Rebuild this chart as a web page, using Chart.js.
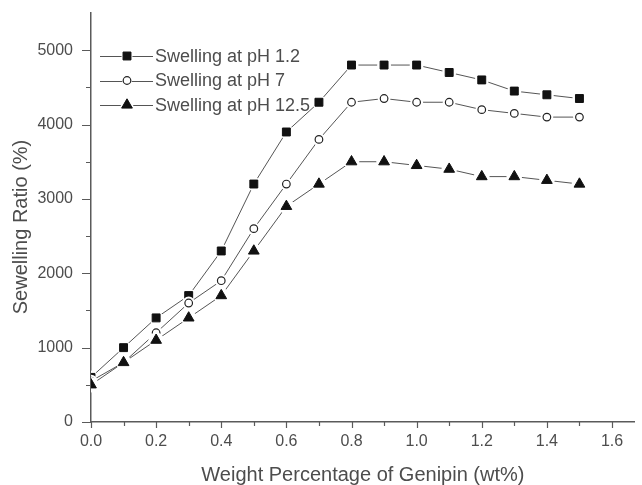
<!DOCTYPE html>
<html>
<head>
<meta charset="utf-8">
<script src="https://cdn.jsdelivr.net/npm/chart.js@4"></script>
<style>
  html, body { margin: 0; padding: 0; background: #fff; }
  #wrap { width: 642px; height: 485px; }
</style>
</head>
<body>
<div id="wrap"><canvas id="c" width="642" height="485"></canvas></div>
<script>
// Genipin content (wt%) and swelling ratio (%) at three pH values
const genipin = [0, 0.1, 0.2, 0.3, 0.4, 0.5, 0.6, 0.7, 0.8, 0.9, 1.0, 1.1, 1.2, 1.3, 1.4, 1.5];
const swellPh12 = [600, 1000, 1400, 1700, 2300, 3200, 3900, 4300, 4800, 4800, 4800, 4700, 4600, 4450, 4400, 4350];
const swellPh7 = [550, 800, 1200, 1600, 1900, 2600, 3200, 3800, 4300, 4350, 4300, 4300, 4200, 4150, 4100, 4100];
const swellPh125 = [500, 800, 1100, 1400, 1700, 2300, 2900, 3200, 3500, 3500, 3450, 3400, 3300, 3300, 3250, 3200];
const seriesLabels = ['Swelling at pH 1.2', 'Swelling at pH 7', 'Swelling at pH 12.5'];

// Axis ticks
const xTicks = [0, 0.2, 0.4, 0.6, 0.8, 1.0, 1.2, 1.4, 1.6];
const xMinorTicks = [0.1, 0.3, 0.5, 0.7, 0.9, 1.1, 1.3, 1.5];
const yTicks = [0, 1000, 2000, 3000, 4000, 5000];
const yMinorTicks = [500, 1500, 2500, 3500, 4500];

const FONT = "'Liberation Sans', Arial, Helvetica, sans-serif";
const TEXT = '#4d4d4d';
const AXIS = '#5a5a5a';
const LINE = '#555';

const toPoints = ys => genipin.map((x, i) => ({ x, y: ys[i] }));

// white ring behind each marker so the connecting lines stop short of it
const haloSize = [7, 6.4, 7.8];

const markerHalo = {
  id: 'markerHalo',
  afterDatasetDraw(chart, args) {
    const { ctx, chartArea: a } = chart;
    const meta = args.meta;
    const r = haloSize[args.index];
    ctx.save();
    ctx.beginPath();
    ctx.rect(a.left, a.top - 10, a.right - a.left + 10, a.bottom - a.top + 10);
    ctx.clip();
    meta.data.forEach(el => {
      ctx.fillStyle = '#fff';
      ctx.beginPath();
      ctx.arc(el.x, el.y, r, 0, Math.PI * 2);
      ctx.fill();
      el.draw(ctx, a);
    });
    ctx.restore();
  }
};

const axisDecor = {
  id: 'axisDecor',
  afterDraw(chart) {
    const { ctx, chartArea: a, scales } = chart;
    const xs = scales.x, ys = scales.y;
    ctx.save();
    ctx.strokeStyle = AXIS;
    ctx.lineWidth = 1.2;
    ctx.beginPath();
    xTicks.forEach(v => { const p = Math.round(xs.getPixelForValue(v)) + 0.5; ctx.moveTo(p, a.bottom); ctx.lineTo(p, a.bottom + 6); });
    xMinorTicks.forEach(v => { const p = Math.round(xs.getPixelForValue(v)) + 0.5; ctx.moveTo(p, a.bottom); ctx.lineTo(p, a.bottom + 4); });
    yTicks.forEach(v => { const p = Math.round(ys.getPixelForValue(v)) + 0.5; ctx.moveTo(a.left, p); ctx.lineTo(a.left - 9, p); });
    yMinorTicks.forEach(v => { const p = Math.round(ys.getPixelForValue(v)) + 0.5; ctx.moveTo(a.left, p); ctx.lineTo(a.left - 5, p); });
    ctx.stroke();

    // axis titles
    ctx.fillStyle = TEXT;
    ctx.font = '20px ' + FONT;
    ctx.textAlign = 'center';
    ctx.textBaseline = 'alphabetic';
    ctx.fillText('Weight Percentage of Genipin (wt%)', (a.left + a.right) / 2, 481);
    ctx.translate(27, 227);
    ctx.rotate(-Math.PI / 2);
    ctx.fillText('Sewelling Ratio (%)', 0, 0);
    ctx.restore();

    // legend: line + marker + label, inside the plot area
    ctx.save();
    const x0 = a.left + 9, x1 = a.left + 62, xm = a.left + 36, tx = a.left + 64;
    chart.data.datasets.forEach((ds, i) => {
      const y = a.top + 43 + i * 24.5;
      ctx.strokeStyle = ds.borderColor;
      ctx.lineWidth = ds.borderWidth;
      ctx.beginPath();
      ctx.moveTo(x0, Math.round(y) + 0.5);
      ctx.lineTo(x1, Math.round(y) + 0.5);
      ctx.stroke();
      ctx.fillStyle = '#fff';
      ctx.beginPath();
      ctx.arc(xm, y, haloSize[i] - 1.5, 0, Math.PI * 2);
      ctx.fill();
      ctx.fillStyle = ds.pointBackgroundColor;
      ctx.strokeStyle = ds.pointBorderColor;
      ctx.lineWidth = ds.pointBorderWidth;
      Chart.helpers.drawPoint(ctx, {
        pointStyle: ds.pointStyle, radius: ds.pointRadius,
        borderWidth: ds.pointBorderWidth, rotation: 0
      }, xm, y);
      ctx.fillStyle = TEXT;
      ctx.font = '18px ' + FONT;
      ctx.textAlign = 'left';
      ctx.textBaseline = 'middle';
      ctx.fillText(ds.label, tx, y + 1);
    });
    ctx.restore();
  }
};

new Chart(document.getElementById('c'), {
  type: 'line',
  data: {
    datasets: [
      {
        label: seriesLabels[0], data: toPoints(swellPh12), order: 2,
        borderColor: LINE, borderWidth: 1, tension: 0, fill: false,
        pointStyle: 'rect', pointRadius: 5.6, pointBackgroundColor: '#111',
        pointBorderColor: '#111', pointBorderWidth: 1
      },
      {
        label: seriesLabels[1], data: toPoints(swellPh7), order: 1,
        borderColor: LINE, borderWidth: 1, tension: 0, fill: false,
        pointStyle: 'circle', pointRadius: 3.8, pointBackgroundColor: '#fff',
        pointBorderColor: '#222', pointBorderWidth: 1.2
      },
      {
        label: seriesLabels[2], data: toPoints(swellPh125), order: 0,
        borderColor: LINE, borderWidth: 1, tension: 0, fill: false,
        pointStyle: 'triangle', pointRadius: 6.2, pointBackgroundColor: '#111',
        pointBorderColor: '#111', pointBorderWidth: 1
      }
    ]
  },
  options: {
    responsive: false,
    animation: false,
    devicePixelRatio: 1,
    layout: { padding: { top: 13, left: 0, right: 0, bottom: 0 } },
    plugins: { legend: { display: false }, tooltip: { enabled: false } },
    scales: {
      x: {
        type: 'linear', min: 0, max: 1.67,
        afterBuildTicks: s => { s.ticks = xTicks.map(v => ({ value: v })); },
        afterFit: s => { s.height = 63; s.paddingLeft = 0; s.paddingRight = 0; },
        ticks: {
          autoSkip: false, maxRotation: 0, padding: 10, color: TEXT,
          font: { family: FONT, size: 16 },
          callback: v => Number(v).toFixed(1)
        },
        grid: { display: true, drawOnChartArea: false, drawTicks: false, color: 'rgba(0,0,0,0)' },
        border: { display: true, color: AXIS, width: 1.5 }
      },
      y: {
        type: 'linear', min: 0, max: 5500,
        afterBuildTicks: s => { s.ticks = yTicks.map(v => ({ value: v })); },
        afterFit: s => { s.width = 91; s.paddingTop = 0; s.paddingBottom = 0; },
        ticks: {
          autoSkip: false, padding: 18, color: TEXT,
          font: { family: FONT, size: 16 },
          callback: v => String(v)
        },
        grid: { display: true, drawOnChartArea: false, drawTicks: false, color: 'rgba(0,0,0,0)' },
        border: { display: true, color: AXIS, width: 1.5 }
      }
    }
  },
  plugins: [markerHalo, axisDecor]
});
</script>
</body>
</html>
